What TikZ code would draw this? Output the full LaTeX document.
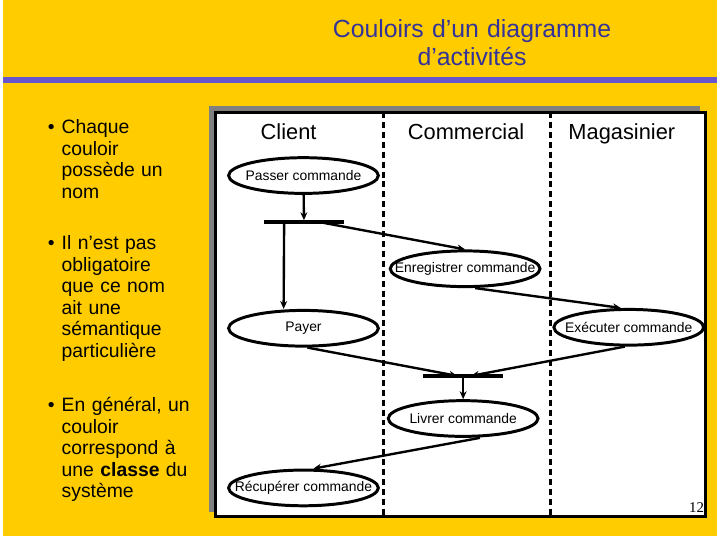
\documentclass[tikz,border=0pt]{standalone}
\usepackage{fontspec}
\setmainfont{Liberation Sans}
\newfontfamily\numfont{Liberation Serif}
\usepackage{tikz}
\usetikzlibrary{arrows.meta,shapes.geometric}

\definecolor{fondjaune}{HTML}{FFCC00}
\definecolor{violetligne}{HTML}{6655CC}
\definecolor{titrebleu}{HTML}{333399}

\tikzset{
    activite/.style={draw, ellipse, line width=3pt, fill=white, inner sep=0pt,
        minimum width=151pt, minimum height=36pt, font=\fontsize{14}{16}\selectfont},
    barre/.style={fill=black, inner sep=0pt, minimum width=81pt, minimum height=3.5pt},
    fleche/.style={->, line width=2.4pt},
    couloir/.style={line width=3pt, dash pattern=on 6pt off 4pt},
    puce/.style={anchor=base west, inner sep=0pt, text width=150pt, align=left,
        font=\fontsize{19.5}{21.7}\selectfont},
    nomcouloir/.style={anchor=base, inner sep=0pt, font=\fontsize{22}{24}\selectfont}
}

\begin{document}
\begin{tikzpicture}[x=1pt, y=-1pt, >={Stealth[length=8pt,width=7pt]}]
    % 背景及标题
    \fill[fondjaune] (0,0) rectangle (720,540);
    \node[anchor=base, inner sep=0pt, text width=320pt, align=center, text=titrebleu,
        font=\fontsize{25}{28}\selectfont] (titre) at (473,38)
        {Couloirs d’un diagramme\\d’activités};
    \draw[violetligne, line width=6pt] (0,81) -- (720,81);

    % 左侧要点
    \node[puce] (p1) at (59,135) {\llap{\textbullet\hspace{7pt}}Chaque\\couloir\\possède un\\nom};
    \node[puce] (p2) at (59,252) {\llap{\textbullet\hspace{7pt}}Il n’est pas\\obligatoire\\que ce nom\\ait une\\sémantique\\particulière};
    \node[puce] (p3) at (59,415) {\llap{\textbullet\hspace{7pt}}En général, un\\couloir\\correspond à\\une \textbf{classe} du\\système};

    % 图框及阴影
    \fill[gray] (208,107) rectangle (703,516);
    \draw[fill=white, line width=3pt] (214,113) rectangle (708,521);
    \draw[couloir] (384,113) -- (384,521);
    \draw[couloir] (552,113) -- (552,521);

    % 泳道名称
    \node[nomcouloir] (client) at (288,141) {Client};
    \node[nomcouloir] (commercial) at (467,141) {Commercial};
    \node[nomcouloir] (magasinier) at (624,141) {Magasinier};

    % 活动
    \node[activite] (passer) at (303,177) {\makebox[0pt]{Passer commande}};
    \node[activite] (enreg) at (466,271) {\makebox[0pt]{Enregistrer commande}};
    \node[activite] (payer) at (303,331) {\makebox[0pt]{Payer}};
    \node[activite] (exec) at (631,330) {\makebox[0pt]{Exécuter commande}};
    \node[activite] (livrer) at (464,422) {\makebox[0pt]{Livrer commande}};
    \node[activite] (recup) at (303,492) {\makebox[0pt]{Récupérer commande}};

    % 同步条
    \node[barre] (bar1) at (303.5,224) {};
    \node[barre] (bar2) at (464,379) {};

    % 转移
    \draw[fleche] (passer) -- (bar1);
    \draw[fleche] ([xshift=16pt]bar1.center) -- (enreg.north);
    \draw[fleche] ([xshift=-20pt]bar1.center) -- ([xshift=-20pt]payer.north);
    \draw[fleche] ([xshift=10pt]enreg.south) -- ([xshift=-8pt]exec.north);
    \draw[fleche] ([xshift=4pt]payer.south) -- ([xshift=-6pt]bar2.center);
    \draw[fleche] ([xshift=-4pt]exec.south) -- ([xshift=8pt]bar2.center);
    \draw[fleche] (bar2) -- (livrer);
    \draw[fleche] ([xshift=17pt]livrer.south) -- ([xshift=10pt]recup.north);

    % 页码
    \node[anchor=base east, inner sep=0pt, font=\numfont\fontsize{15}{17}\selectfont] (page) at (707,517) {12};
\end{tikzpicture}
\end{document}
